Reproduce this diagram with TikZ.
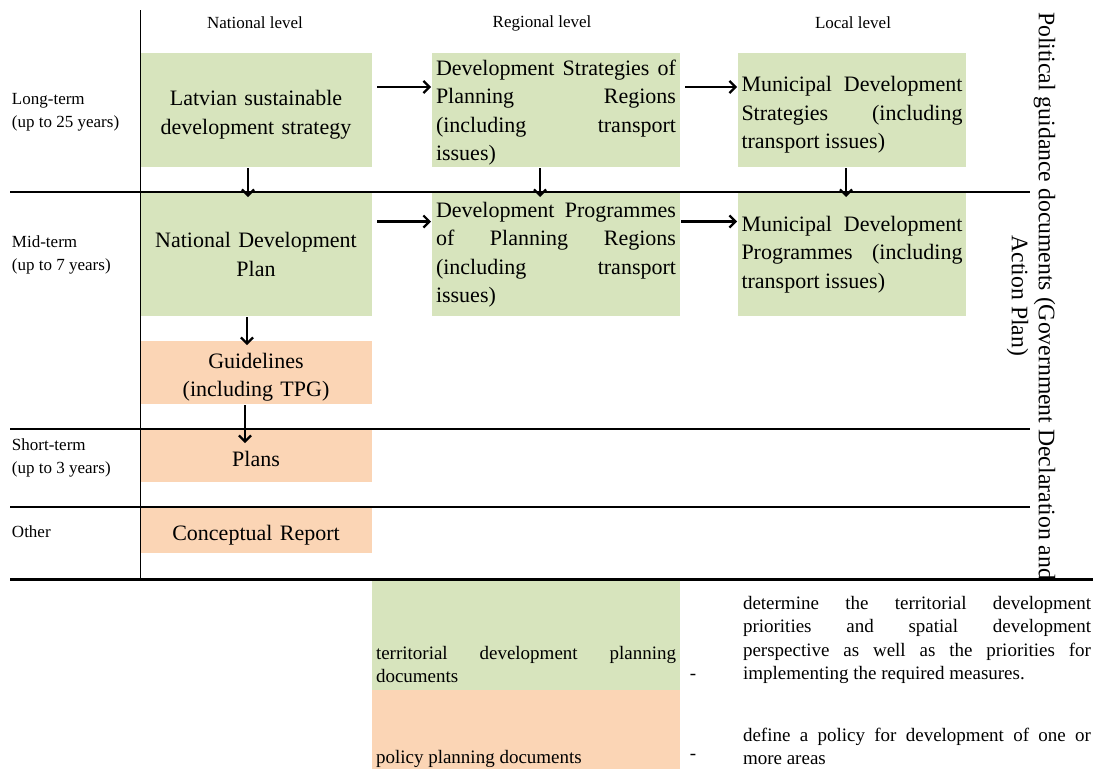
\documentclass[tikz,border=0pt]{standalone}
\usepackage{fontspec}
\setmainfont{Liberation Serif}
\usetikzlibrary{positioning,arrows.meta}
\definecolor{tdpgreen}{RGB}{215,228,189}
\definecolor{ppdorange}{RGB}{251,213,181}
\newcommand{\sink}[1][25pt]{\rule{0pt}{#1}}

\begin{document}
\begin{tikzpicture}[x=1pt, y=1pt, >={Straight Barb[length=6pt,width=12pt]}]
 \tikzstyle{every node}=[inner sep=0pt, outer sep=0pt]
 \tikzstyle{tdp}=[fill=tdpgreen, font=\fontsize{22}{28.5}\selectfont]
 \tikzstyle{ppd}=[fill=ppdorange, font=\fontsize{22}{28.5}\selectfont]
 \tikzstyle{natl}=[minimum width=232pt, text width=224pt, align=center]
 \tikzstyle{regl}=[minimum width=248pt, text width=240pt, align=justify, minimum height=114pt]
 \tikzstyle{locl}=[minimum width=228pt, text width=221pt, align=justify, minimum height=114pt]
 \tikzstyle{hdr}=[font=\fontsize{17}{23}\selectfont]
 \tikzstyle{lbl}=[font=\fontsize{17}{23}\selectfont, anchor=west, align=left]
 \tikzstyle{leg}=[font=\fontsize{19}{23.5}\selectfont]
 \tikzstyle{flow}=[->, line width=2.2pt, shorten <=5pt, shorten >=1pt]
 \tikzstyle{drop}=[->, line width=2.2pt, shorten <=1pt, shorten >=-4pt]
 \useasboundingbox (0,0) rectangle (1093,-769);

 % levels
 \node[hdr] (nat) at (255,-23) {National level};
 \node[hdr] (reg) at (542,-23) {Regional level};
 \node[hdr] (loc) at (853,-23) {Local level};

 % terms
 \node[lbl] (lt) at (12,-112.5) {Long-term\\(up to 25 years)};
 \node[lbl] (mt) at (12,-255) {Mid-term\\(up to 7 years)};
 \node[lbl] (st) at (12,-458) {Short-term\\(up to 3 years)};
 \node[lbl] (ot) at (12,-532) {Other};

 % documents
 \node[tdp,natl,minimum height=114pt] (lat) at (256,-110) {\sink Latvian sustainable\\development strategy};
 \node[tdp,regl] (dsr) [right=60pt of lat] {\sink[21pt]Development Strategies of\linebreak Planning Regions\linebreak (including transport\linebreak issues)};
 \node[tdp,locl] (mds) [right=58pt of dsr] {\sink Municipal Development\linebreak Strategies (including\linebreak transport issues)};
 \node[tdp,natl,minimum height=123pt] (ndp) [below=26pt of lat] {National Development\\Plan};
 \node[tdp,regl,minimum height=123pt] (dpr) [right=60pt of ndp] {Development Programmes\linebreak of Planning Regions\linebreak (including transport\linebreak issues)};
 \node[tdp,locl,minimum height=123pt] (mdp) [right=58pt of dpr] {Municipal Development\linebreak Programmes (including\linebreak transport issues)};
 \node[ppd,natl,minimum height=63pt] (gdl) [below=25pt of ndp] {\sink Guidelines\\(including TPG)};
 \node[ppd,natl,minimum height=52pt] (plans) [below=26pt of gdl] {\sink[21pt]Plans};
 \node[ppd,natl,minimum height=45pt] (concept) [below=26pt of plans] {\sink Conceptual Report};

 \node[rotate=-90, font=\fontsize{23.7}{27}\selectfont, align=center] (pgd) at (1031,-296) {\makebox[568pt][s]{Political guidance documents (Government Declaration and}\\Action Plan)};

 % grid
 \draw[line width=1pt] (140,-10) -- (140,-579);
 \draw[line width=2pt] (10,-192) -- (1030,-192);
 \draw[line width=2pt] (10,-429) -- (1030,-429);
 \draw[line width=2pt] (10,-507) -- (1030,-507);
 \draw[line width=3pt] (10,-579) -- (1093,-579);

 \draw[flow] ([yshift=23pt]lat.east) -- ([yshift=23pt]dsr.west);
 \draw[flow] ([yshift=23pt]dsr.east) -- ([yshift=23pt]mds.west);
 \draw[flow] ([yshift=33pt]ndp.east) -- ([yshift=33pt]dpr.west);
 \draw[flow, shorten <=1pt] ([yshift=33pt]dpr.east) -- ([yshift=33pt]mdp.west);
 \draw[drop] ([xshift=-8pt]lat.south) -- ([xshift=-8pt]ndp.north);
 \draw[drop] ([xshift=-16pt]dsr.south) -- ([xshift=-16pt]dpr.north);
 \draw[drop] ([xshift=-6pt]mds.south) -- ([xshift=-6pt]mdp.north);
 \draw[drop] ([xshift=-9pt]ndp.south) -- ([xshift=-9pt]gdl.north);
 \draw[drop, shorten >=-13pt] ([xshift=-11pt]gdl.south) -- ([xshift=-11pt]plans.north);

 % legend
 \node[fill=tdpgreen, minimum width=308pt, minimum height=109pt] (tdpbox) at (526,-635.5) {};
 \node[fill=ppdorange, minimum width=308pt, minimum height=79pt] (ppdbox) at (526,-729.5) {};
 \node[leg, anchor=south west, text width=300pt, align=justify] (tdptxt) at (376,-683) {territorial development planning\linebreak documents};
 \node[leg, anchor=base west] (ppdtxt) at (376,-763) {policy planning documents};
 \node[leg] (tdpdash) at (693,-677) {-};
 \node[leg] (ppddash) at (693,-757) {-};
 \node[leg, anchor=south west, text width=348pt, align=justify] (tdpdef) at (743,-684) {determine the territorial development\linebreak priorities and spatial development\linebreak perspective as well as the priorities for\linebreak implementing the required measures.};
 \node[leg, anchor=south west, text width=348pt, align=justify] (ppddef) at (743,-765) {define a policy for development of one or\linebreak more areas};
\end{tikzpicture}
\end{document}
